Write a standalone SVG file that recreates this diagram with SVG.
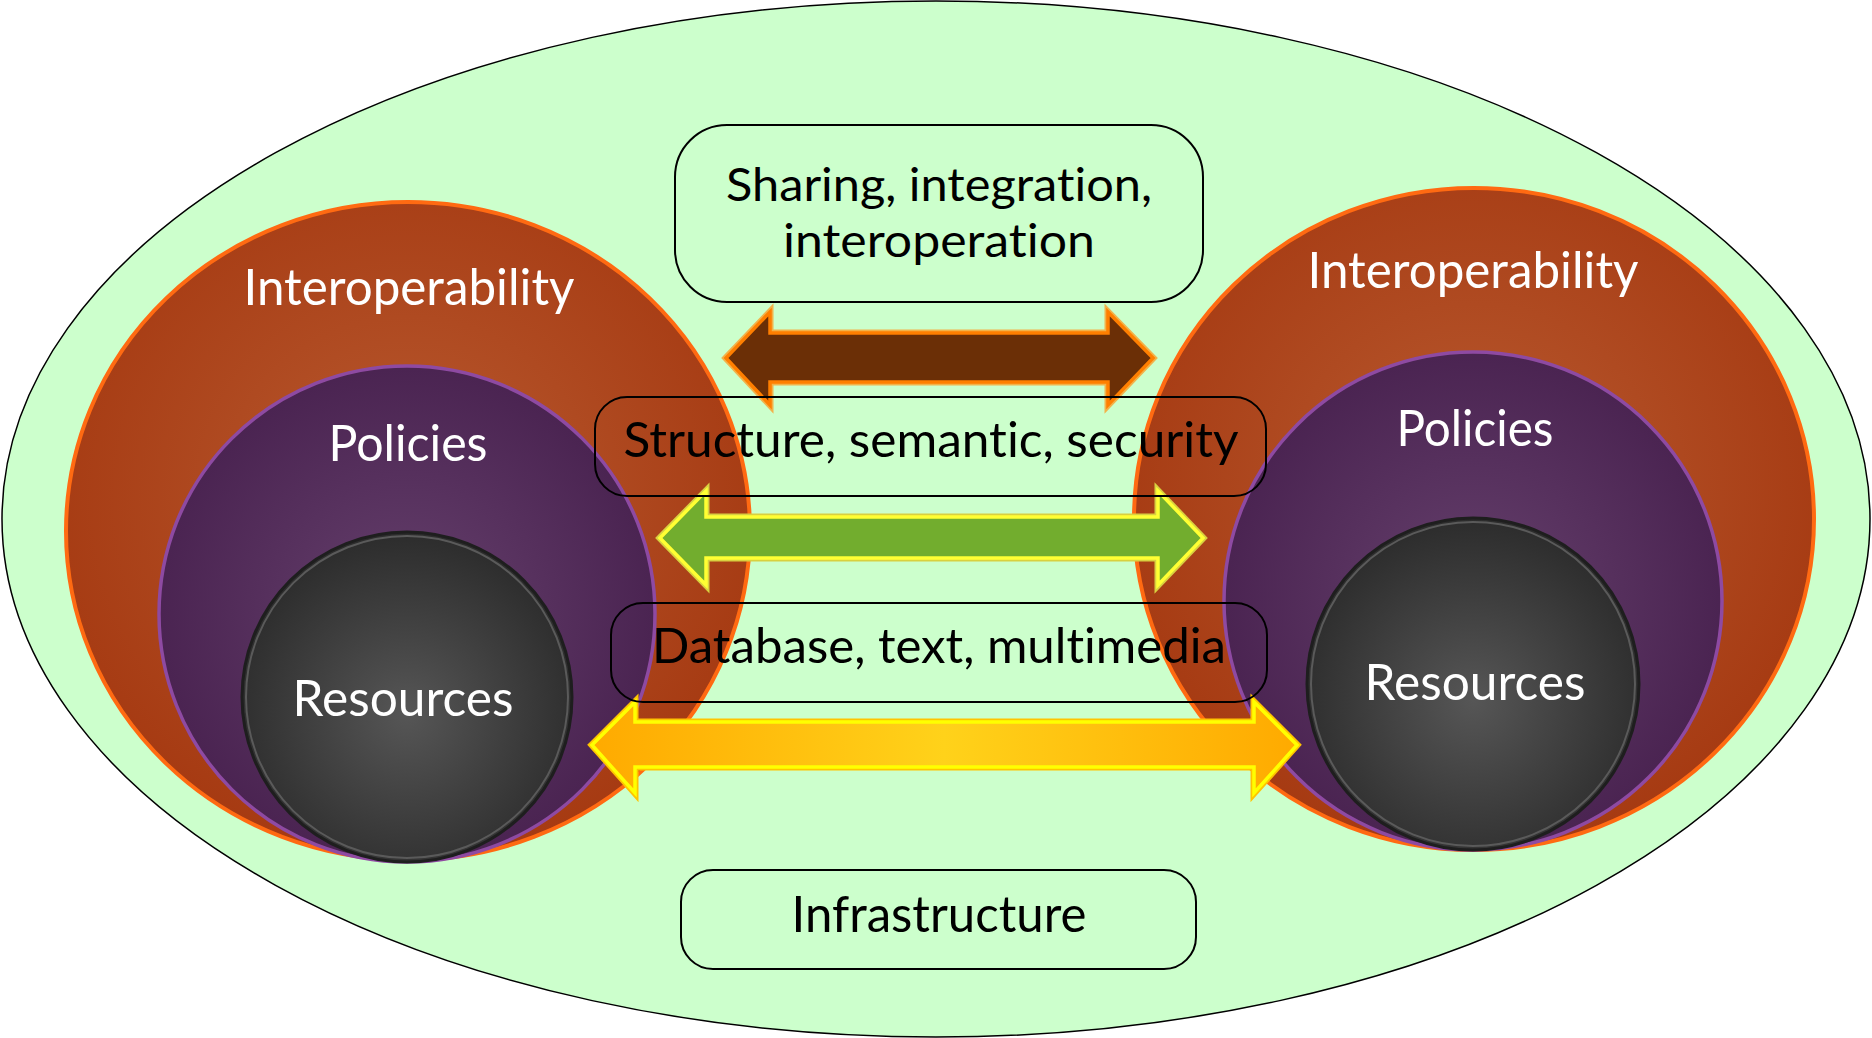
<svg xmlns="http://www.w3.org/2000/svg" width="1872" height="1038" viewBox="0 0 1872 1038">
<defs>
<radialGradient id="gOr" cx="50%" cy="45%" r="55%">
<stop offset="0" stop-color="#b85a30"/><stop offset="1" stop-color="#a63a12"/>
</radialGradient>
<radialGradient id="gPu" cx="50%" cy="50%" r="55%">
<stop offset="0" stop-color="#65406c"/><stop offset="1" stop-color="#48214f"/>
</radialGradient>
<radialGradient id="gDk" cx="50%" cy="55%" r="55%">
<stop offset="0" stop-color="#565656"/><stop offset="1" stop-color="#2c2c2c"/>
</radialGradient>
<linearGradient id="gYe" x1="0" y1="0" x2="1" y2="0">
<stop offset="0" stop-color="#ffaa00"/><stop offset="0.5" stop-color="#ffd21a"/><stop offset="1" stop-color="#ffaa00"/>
</linearGradient>
<style>
.lbl,.txt{font-family:Lato,"Gill Sans","Open Sans",sans-serif;text-anchor:middle;font-variant-ligatures:none;font-feature-settings:"liga" 0,"clig" 0,"dlig" 0}
.lbl{fill:#fff}
.txt{fill:#000}
.box{fill:none;stroke:#000;stroke-width:2}
.or{fill:url(#gOr);stroke:#ff6a12;stroke-width:4}
.pu{fill:url(#gPu);stroke:#8e4aa2;stroke-width:3.5}
.dk{fill:url(#gDk);stroke:#1e1e1e;stroke-width:3}
.dkin{fill:none;stroke:#5a5a5a;stroke-width:2}
</style>
</defs>
<ellipse id="background" cx="936" cy="519" rx="934" ry="518" fill="#ccffcc" stroke="#000" stroke-width="1.5"/>
<g id="left-interoperability"><ellipse class="or" cx="408" cy="531" rx="342" ry="329"/><text class="lbl" x="409" y="305" font-size="50" textLength="331" lengthAdjust="spacingAndGlyphs">Interoperability</text></g>
<g id="left-policies"><ellipse class="pu" cx="407" cy="614" rx="248" ry="248"/><text class="lbl" x="408" y="461" font-size="50" textLength="159" lengthAdjust="spacingAndGlyphs">Policies</text></g>
<g id="left-resources"><circle class="dk" cx="407" cy="697" r="165"/><circle class="dkin" cx="407" cy="697" r="161"/><text class="lbl" x="403" y="716" font-size="50" textLength="221" lengthAdjust="spacingAndGlyphs">Resources</text></g>
<g id="right-interoperability"><ellipse class="or" cx="1474" cy="519" rx="340" ry="331"/><text class="lbl" x="1473" y="288" font-size="50" textLength="331" lengthAdjust="spacingAndGlyphs">Interoperability</text></g>
<g id="right-policies"><ellipse class="pu" cx="1473" cy="601" rx="249" ry="249"/><text class="lbl" x="1475" y="446" font-size="50" textLength="157" lengthAdjust="spacingAndGlyphs">Policies</text></g>
<g id="right-resources"><circle class="dk" cx="1473" cy="684" r="166"/><circle class="dkin" cx="1473" cy="684" r="162"/><text class="lbl" x="1475" y="700" font-size="50" textLength="221" lengthAdjust="spacingAndGlyphs">Resources</text></g>
<g id="connectors">
<path d="M726,358 L770,312 L770,333 L1108,333 L1108,312 L1153,358 L1108,405 L1108,382 L770,382 L770,405 Z" fill="#6b2f06" stroke="#f2b24a" stroke-width="7" stroke-linejoin="miter"/>
<path d="M726,358 L770,312 L770,333 L1108,333 L1108,312 L1153,358 L1108,405 L1108,382 L770,382 L770,405 Z" fill="#6b2f06" stroke="#ff7f00" stroke-width="3.5"/>
<path d="M660,538 L706,491 L706,517 L1158,517 L1158,491 L1203,538 L1158,585 L1158,558 L706,558 L706,585 Z" fill="#72ad2e" stroke="#d8d040" stroke-width="7"/>
<path d="M660,538 L706,491 L706,517 L1158,517 L1158,491 L1203,538 L1158,585 L1158,558 L706,558 L706,585 Z" fill="#72ad2e" stroke="#ffff33" stroke-width="3.5"/>
<path d="M592,745 L635,702 L635,722 L1254,722 L1254,702 L1297,745 L1254,793 L1254,767 L635,767 L635,793 Z" fill="url(#gYe)" stroke="#ffc400" stroke-width="7"/>
<path d="M592,745 L635,702 L635,722 L1254,722 L1254,702 L1297,745 L1254,793 L1254,767 L635,767 L635,793 Z" fill="url(#gYe)" stroke="#ffff00" stroke-width="3.5"/>
</g>
<g id="box-sharing"><rect class="box" x="675" y="125" width="528" height="177" rx="52"/><text class="txt" x="939" y="201" font-size="46" textLength="426" lengthAdjust="spacingAndGlyphs">Sharing, integration,</text><text class="txt" x="939" y="257" font-size="46" textLength="312" lengthAdjust="spacingAndGlyphs">interoperation</text></g>
<g id="box-structure"><rect class="box" x="595" y="397" width="671" height="99" rx="32"/><text class="txt" x="931" y="457" font-size="48" textLength="615" lengthAdjust="spacingAndGlyphs">Structure, semantic, security</text></g>
<g id="box-database"><rect class="box" x="611" y="603" width="656" height="99" rx="32"/><text class="txt" x="939" y="663" font-size="48" textLength="574" lengthAdjust="spacingAndGlyphs">Database, text, multimedia</text></g>
<g id="box-infrastructure"><rect class="box" x="681" y="870" width="515" height="99" rx="32"/><text class="txt" x="939" y="932" font-size="50" textLength="295" lengthAdjust="spacingAndGlyphs">Infrastructure</text></g>
</svg>
